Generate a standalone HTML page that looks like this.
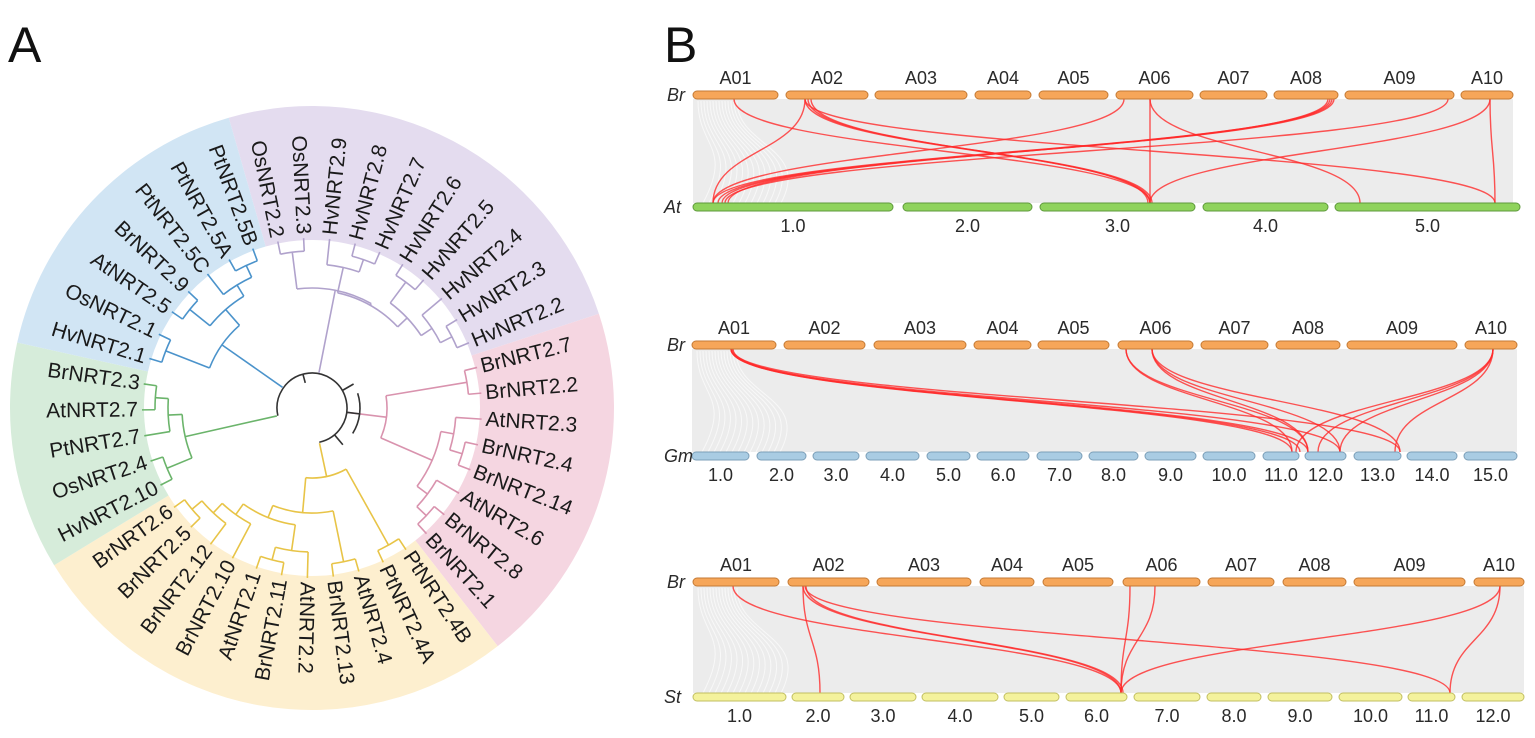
<!DOCTYPE html>
<html><head><meta charset="utf-8"><style>
html,body{margin:0;padding:0;background:#fff;}
svg{display:block;font-family:"Liberation Sans",Arial,sans-serif;}
</style></head><body>
<svg id="s" width="1535" height="738" viewBox="0 0 1535 738" xmlns="http://www.w3.org/2000/svg">
<rect width="1535" height="738" fill="#fff"/>
<text x="8" y="62" font-size="50" fill="#111">A</text>
<text x="664" y="62" font-size="50" fill="#111">B</text>
<g id="A"></g><g id="B"></g>
</svg>
<script>
var NS="http://www.w3.org/2000/svg";
function el(p,t,a,txt){var e=document.createElementNS(NS,t);for(var k in a)e.setAttribute(k,a[k]);if(txt!=null)e.textContent=txt;p.appendChild(e);return e;}
var A=document.getElementById('A'),B=document.getElementById('B');
var cx=312,cy=408,R=302,RI=168,d2r=Math.PI/180;
function pt(r,a){return [cx+r*Math.cos(a*d2r),cy+r*Math.sin(a*d2r)];}
function sector(a0,a1,r0,r1,fill){var p0=pt(r1,a0),p1=pt(r1,a1),p2=pt(r0,a1),p3=pt(r0,a0);var lg=(a1-a0)>180?1:0;
el(A,'path',{d:'M'+p0+' A'+r1+' '+r1+' 0 '+lg+' 1 '+p1+' L'+p2+' A'+r0+' '+r0+' 0 '+lg+' 0 '+p3+'Z',fill:fill});}
var step=360/41,start=-106;
var clades=[
{n:['OsNRT2.2','OsNRT2.3','HvNRT2.9','HvNRT2.8','HvNRT2.7','HvNRT2.6','HvNRT2.5','HvNRT2.4','HvNRT2.3','HvNRT2.2'],bg:'#e4dcef',c:'#b0a2cc',tree:[[0,1],[[2,[3,4]],[[5,6],[7,[8,9]]]]],rr:120},
{n:['BrNRT2.7','BrNRT2.2','AtNRT2.3','BrNRT2.4','BrNRT2.14','AtNRT2.6','BrNRT2.8','BrNRT2.1'],bg:'#f5d6e1',c:'#d993ae',tree:[[0,1],[[2,[3,4]],[5,[6,7]]]],rr:75},
{n:['PtNRT2.4B','PtNRT2.4A','AtNRT2.4','BrNRT2.13','AtNRT2.2','BrNRT2.11','AtNRT2.1','BrNRT2.10','BrNRT2.12','BrNRT2.5','BrNRT2.6'],bg:'#fdefcf',c:'#e8c447',tree:[[0,1],[[2,3],[[4,[5,6]],[7,[8,[9,10]]]]]],rr:70},
{n:['HvNRT2.10','OsNRT2.4','PtNRT2.7','AtNRT2.7','BrNRT2.3'],bg:'#d6ecda',c:'#6bb46b',tree:[[0,1],[2,[3,4]]],rr:130},
{n:['HvNRT2.1','OsNRT2.1','AtNRT2.5','BrNRT2.9','PtNRT2.5C','PtNRT2.5A','PtNRT2.5B'],bg:'#d1e5f4',c:'#4b93cb',tree:[[0,1],[[2,3],[4,[5,6]]]],rr:110}];
var idx=0;
clades.forEach(function(cl){cl.a0=start+idx*step;cl.ang=cl.n.map(function(_,i){return start+(idx+i+0.5)*step;});idx+=cl.n.length;cl.a1=start+idx*step;
 sector(cl.a0,cl.a1,RI,R,cl.bg);});
clades.forEach(function(cl){cl.n.forEach(function(nm,i){var a=cl.ang[i];var aa=((a%360)+360)%360;var flip=aa>93&&aa<268;
 var tr='translate('+cx+','+cy+') rotate('+a+') translate(174,0)'+(flip?' rotate(180)':'');
 el(A,'text',{transform:tr,'font-size':21,fill:'#1a1a1a','text-anchor':flip?'end':'start','dominant-baseline':'central'},nm);});});
function line(r0,r1,a,c){var p=pt(r0,a),q=pt(r1,a);el(A,'line',{x1:p[0],y1:p[1],x2:q[0],y2:q[1],stroke:c,'stroke-width':1.6});}
function arc(r,a0,a1,c){if(Math.abs(a1-a0)<0.01)return;var p=pt(r,a0),q=pt(r,a1);el(A,'path',{d:'M'+p+' A'+r+' '+r+' 0 '+((a1-a0)>180?1:0)+' 1 '+q,fill:'none',stroke:c,'stroke-width':1.6});}
var LR=170;
function build(node,cl){
 if(typeof node==='number')return {a:cl.ang[node],r:LR,h:0};
 var ch=node.map(function(n){return build(n,cl);});
 var h=1+Math.max.apply(null,ch.map(function(c){return c.h;}));
 var r=LR-13*h;
 ch.forEach(function(c){line(r,c.r,c.a,cl.c);});
 var as=ch.map(function(c){return c.a;});var mn=Math.min.apply(null,as),mx=Math.max.apply(null,as);
 arc(r,mn,mx,cl.c);return {a:(mn+mx)/2,r:r,h:h};}
clades.forEach(function(cl){var ch=cl.tree.map(function(n){return build(n,cl);});
 var as=ch.map(function(c){return c.a;});var mn=Math.min.apply(null,as),mx=Math.max.apply(null,as);
 ch.forEach(function(c){line(cl.rr,c.r,c.a,cl.c);});arc(cl.rr,mn,mx,cl.c);cl.ra=(mn+mx)/2;
 line(36,cl.rr,cl.ra,cl.c);});
var blk='#333';
arc(35,clades[3].ra,360+clades[2].ra,blk);
arc(48,clades[1].ra-25,clades[1].ra+25,blk);
line(35,48,clades[1].ra,blk);
line(26,35,-105,blk);line(35,48,-30,blk);line(35,48,50,blk);

var gens=[
{yt:91,yb:203,lab:'At',
 top:[[693,778],[786,868],[875,967],[975,1031],[1039,1108],[1116,1193],[1200,1267],[1274,1338],[1345,1454],[1461,1513]],
 bot:[[693,893],[903,1032],[1040,1195],[1203,1328],[1335,1520]],
 bcol:['#8fd35c','#5f9a3c'],blab:['1.0','2.0','3.0','4.0','5.0'],
 links:[[734,1150],[805,713],[805,1150],[808,1152],[811,1148],[805,1495],[1124,713],[1150,1150],[1150,1360],[1330,713],[1332,718],[1328,728],[1334,722],[1448,725],[1490,1150],[1490,1495]]},
{yt:341,yb:452,lab:'Gm',
 top:[[692,776],[784,865],[874,966],[974,1031],[1038,1109],[1118,1193],[1201,1268],[1276,1340],[1347,1457],[1465,1517]],
 bot:[[692,749],[757,806],[813,859],[866,919],[927,970],[977,1029],[1037,1082],[1089,1138],[1145,1196],[1203,1255],[1263,1299],[1305,1346],[1354,1401],[1407,1457],[1464,1517]],
 bcol:['#a9cce3','#7c9fb8'],blab:['1.0','2.0','3.0','4.0','5.0','6.0','7.0','8.0','9.0','10.0','11.0','12.0','13.0','14.0','15.0'],
 links:[[731,1292],[731,1300],[733,1308],[731,1340],[732,1400],[1126,1292],[1126,1308],[1152,1308],[1152,1340],[1152,1400],[1493,1296],[1493,1318],[1493,1340],[1493,1395]]},
{yt:578,yb:693,lab:'St',
 top:[[693,779],[788,869],[877,971],[980,1034],[1043,1113],[1123,1200],[1208,1274],[1283,1346],[1354,1465],[1474,1524]],
 bot:[[693,786],[792,844],[850,916],[922,998],[1004,1059],[1066,1127],[1134,1200],[1207,1261],[1268,1332],[1339,1402],[1408,1455],[1462,1524]],
 bcol:['#f4f29c','#c2bf62'],blab:['1.0','2.0','3.0','4.0','5.0','6.0','7.0','8.0','9.0','10.0','11.0','12.0'],
 links:[[733,1121],[803,820],[803,1121],[806,1123],[805,1450],[1130,1121],[1155,1121],[1500,1121],[1500,1450]]}];
var names=['A01','A02','A03','A04','A05','A06','A07','A08','A09','A10'];
gens.forEach(function(g){
 var x0=g.top[0][0],x1=g.top[g.top.length-1][1];
 el(B,'rect',{x:x0,y:g.yt+8,width:x1-x0,height:g.yb-g.yt-8,fill:'#ececec'});
 for(var i=0;i<14;i++){var a=x0+5+i*3,b=x0+40+i*6;el(B,'path',{d:'M'+a+' '+(g.yt+10)+' C'+a+' '+((g.yt+g.yb)/2)+' '+b+' '+((g.yt+g.yb)/2)+' '+(b-30)+' '+g.yb,fill:'none',stroke:'#f8f8f8','stroke-width':1});}
 g.links.forEach(function(l){var ym=(g.yt+8+g.yb)/2;el(B,'path',{d:'M'+l[0]+' '+(g.yt+8)+' C'+l[0]+' '+ym+' '+l[1]+' '+ym+' '+l[1]+' '+g.yb,fill:'none',stroke:'#ff2a2a','stroke-width':1.4,'stroke-opacity':0.8});});
 g.top.forEach(function(t,i){el(B,'rect',{x:t[0],y:g.yt,width:t[1]-t[0],height:8,rx:4,fill:'#f6a659',stroke:'#c47a35','stroke-width':1});
  el(B,'text',{x:(t[0]+t[1])/2,y:g.yt-7,'font-size':18,'text-anchor':'middle',fill:'#2a2a2a'},names[i]);});
 g.bot.forEach(function(t,i){el(B,'rect',{x:t[0],y:g.yb,width:t[1]-t[0],height:8,rx:4,fill:g.bcol[0],stroke:g.bcol[1],'stroke-width':1});
  el(B,'text',{x:(t[0]+t[1])/2,y:g.yb+29,'font-size':18,'text-anchor':'middle',fill:'#2a2a2a'},g.blab[i]);});
 el(B,'text',{x:667,y:g.yt+10,'font-size':18,'font-style':'italic',fill:'#2a2a2a'},'Br');
 el(B,'text',{x:664,y:g.yb+10,'font-size':18,'font-style':'italic',fill:'#2a2a2a'},g.lab);
});
</script>
</body></html>
